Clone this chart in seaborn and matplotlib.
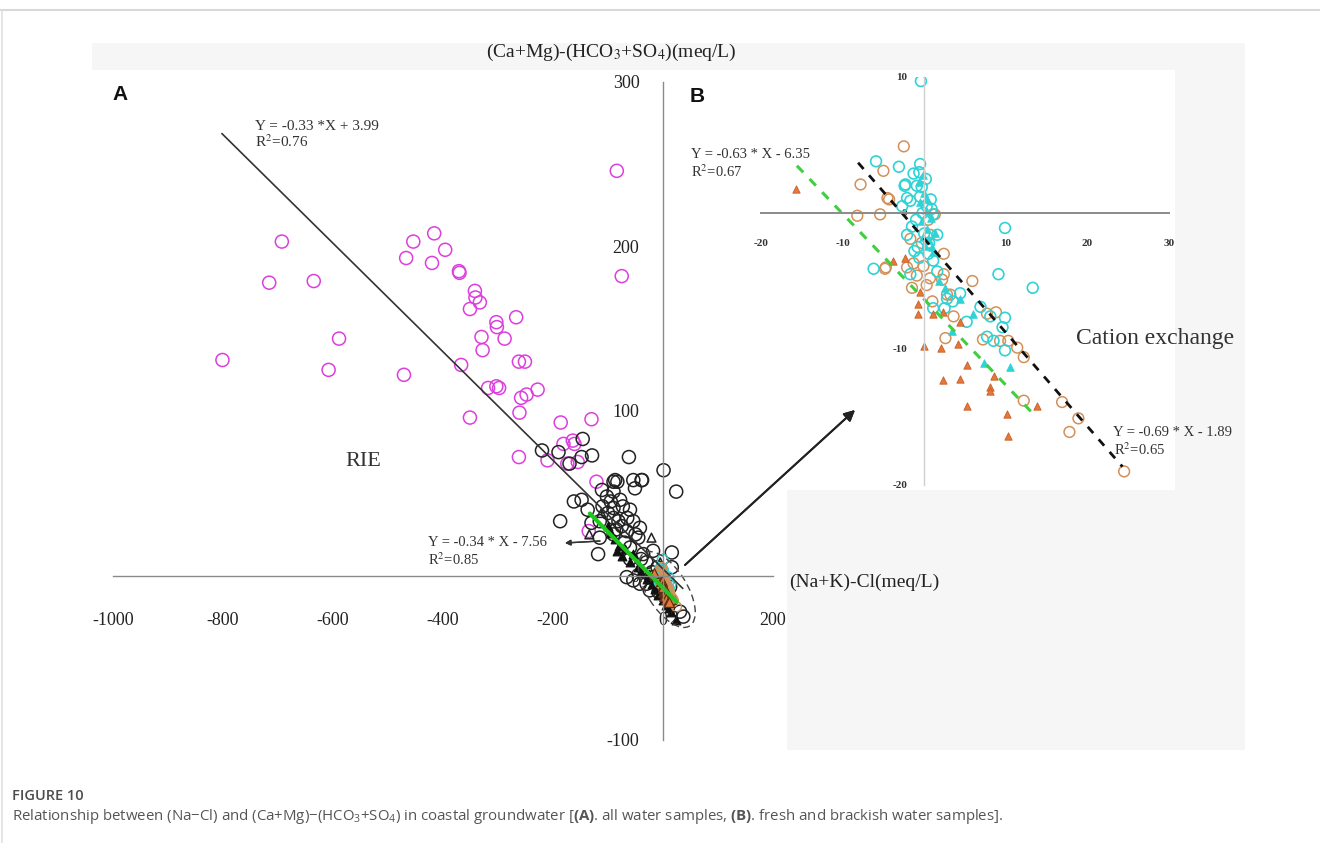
import matplotlib
matplotlib.use('Agg')
import matplotlib.pyplot as plt
import seaborn as sns
from matplotlib.patches import Rectangle, Ellipse
from matplotlib.lines import Line2D
from matplotlib.transforms import ScaledTranslation

sns.set_style('white')
plt.rcParams['font.family'] = ['Liberation Serif', 'DejaVu Serif']
plt.rcParams['mathtext.fontset'] = 'stix'
plt.rcParams['axes.unicode_minus'] = False
plt.rcParams['mathtext.rm'] = 'Open Sans'
plt.rcParams['mathtext.bf'] = 'Open Sans:bold'
plt.rcParams['mathtext.it'] = 'Open Sans:italic'

W, H = 1320, 843

# ---- panel A : all water samples ----
a_mag_x = [-693, -716, -635, -589, -801, -608, -471, -454, -416, -396, -467, -420, -371, -370,
           -342, -341, -333, -351, -267, -303, -302, -330, -288, -328, -367, -262, -251, -318,
           -303, -298, -228, -258, -248, -351, -261, -186, -130, -181, -164, -161, -262, -210,
           -174, -155, -121, -75, -84, -135]
a_mag_y = [203, 178, 179, 144, 131, 125, 122, 203, 208, 198, 193, 190, 185, 184,
           173, 169, 166, 162, 157, 154, 151, 145, 144, 137, 128, 130, 130, 114,
           115, 114, 113, 108, 110, 96, 99, 93, 95, 80, 82, 80, 72, 70,
           68, 69, 57, 182, 246, 27]

a_blk_x = [-220, -190, -146, -148, -129, -170, -62, 1, 24, -90, -83, -54, -38, -51, -111, -102,
           -90, -78, -162, -148, -137, -90, -73, -60, -187, -130, -115, -90, -81, -54, -42, -66,
           -90, -115, -45, -118, -60, -36, -18, 16, 16, -66, -54, -42, -30, -18, -24, 13, 31, 37,
           -87, -39, -70, -75, -85, -95, -65, -50, -40, -30, -10, -5, -20, -8, -60, -100, -110]
a_blk_y = [76, 75, 83, 72, 73, 68, 72, 64, 51, 57, 57, 58, 58, 53, 52, 48,
           51, 46, 45, 46, 40, 41, 42, 40, 33, 32, 33, 35, 33, 33, 29, 27,
           25, 23, 23, 13, 17, 13, 15, 14, 5, -1, -3, -5, -5, -1, -9, -7, -22, -25,
           58, 58, 20, 30, 28, 45, 35, 25, 10, 8, 5, -2, 2, -10, 10, 38, 42]

a_tri_open_x = [-134, -112, -21, -5, 18]
a_tri_open_y = [25, 38, 23, 8, -12]
a_tri_x = [-100, -95, -87, -84, -80, -75, -70, -60, -54, -45, -40, -30, -25, -20, -15, -10,
           0, 5, 10, 15, 24]
a_tri_y = [30, 26, 22, 15, 18, 12, 16, 8, 13, 5, 2, -2, 1, -5, -8, -12,
           -15, -18, -20, -22, -27]

# ---- panel B : fresh and brackish water samples ----
b_cyan_x = [-0.4, -3.1, -5.9, -0.5, -1.3, -0.6, -2.3, -0.3, -1.7, -2.4, -0.9, -2.1, -2.7, -0.5,
            0.2, 1.1, 1.6, 9.9, -2.1, -1.0, 0.3, -0.8, 0.5, -6.2, 9.1, 13.3, 6.9, 8.1, 9.9,
            9.6, 7.7, 8.5, 9.9, 5.2, 4.4, 2.8, 1.1, 2.5, 1.6, -1.7, 1.1, 3.5, -0.2, 0.8,
            -1.5, 0.0, -1.2, 0.6, -0.6, 0.9]
b_cyan_y = [9.7, 3.4, 3.8, 3.6, 2.9, 3.0, 2.1, 1.9, 0.9, 2.0, 2.0, 1.1, 0.5, 1.2,
            2.5, -0.1, -1.6, -1.1, -1.6, -0.5, 0.5, -2.5, -3.0, -4.1, -4.5, -5.5, -6.9, -7.6, -7.7,
            -8.4, -9.1, -9.4, -10.1, -8.0, -5.9, -6.3, -7.0, -7.0, -4.3, -4.5, -3.5, -6.5, 0.0, 1.0,
            -1.0, -1.5, -2.8, -2.2, -3.3, 0.3]
b_cyan_tri_x = [1.8, 2.6, 4.4, 6.0, 3.4, 7.3, 10.5, 1.1, 0.0, -0.5, 0.2, -0.3, 0.4, 0.6, -0.2,
                0.9, -0.6, -0.2, 0.3, 0.8, 0.1, 1.3]
b_cyan_tri_y = [-5.0, -5.5, -6.3, -7.4, -8.7, -11.0, -11.3, -2.9, 1.5, 0.8, 0.2, -0.6, -1.2, -2.0, -1.8,
                -2.5, 2.3, 2.8, 1.0, -0.4, -2.4, -1.5]
b_org_x = [-2.5, -5.0, -4.5, -5.4, -7.8, -4.3, -8.2, 1.3, 0.5, 0.7, 2.4, -0.3, -1.7, -4.7, -1.3,
           0.7, 2.4, 3.2, 2.6, -4.8, -2.1, -0.1, -0.9, 0.3, 2.2, 2.8, 3.6, 5.9, 7.7, 8.8, 7.2,
           9.3, 10.3, 11.4, 12.2, 12.2, 16.9, 18.9, 17.8, 24.5, 1.0, -1.5]
b_org_y = [4.9, 3.1, 1.1, -0.1, 2.1, 1.0, -0.2, -0.1, -0.5, -1.6, -3.0, -2.2, -1.9, -4.0, -3.7,
           -4.8, -4.5, -6.0, -9.2, -4.1, -4.0, -3.9, -4.6, -5.3, -4.9, -6.0, -7.6, -5.0, -7.4, -7.3, -9.3,
           -9.4, -9.4, -9.9, -10.6, -13.8, -13.9, -15.1, -16.1, -19.0, -6.5, -5.5]
b_org_tri_x = [-15.7, -3.8, -2.3, -0.8, 1.1, 2.3, 4.4, 0.0, 2.0, 4.2, 5.2, 2.3, 4.4, 8.6, 8.1,
               8.1, 5.3, 10.1, 13.8, 10.3, -0.5, -0.8]
b_org_tri_y = [1.8, -3.5, -3.3, -7.4, -7.4, -7.3, -8.0, -9.8, -9.9, -9.6, -11.2, -12.3, -12.2, -12.0, -12.8,
               -13.1, -14.2, -14.8, -14.2, -16.4, -5.8, -6.7]

# fitted lines (slope, intercept, x-start, x-end) as printed on the figure
fit_a_all = (-0.33, 3.99, -802, 36)
fit_a_tri = (-0.34, -7.56, -133, 25)
fit_b_circ = (-0.69, -1.89, -8.1, 24.3)
fit_b_tri = (-0.63, -6.35, -15.6, 13.4)

MAG = '#dd3fdd'
CYAN = '#2fd3d6'
TAN = '#d39059'
ORANGE = '#e3783a'


def fx(px):
    return px / W


def fy(py):
    return 1 - py / H


def fit_line(ax, fit, **kw):
    k, b, x0, x1 = fit
    sns.lineplot(x=[x0, x1], y=[k * x0 + b, k * x1 + b], ax=ax, **kw)


fig = plt.figure(figsize=(W / 100, H / 100), dpi=100)

# page frame and light grey image background
fig.add_artist(Line2D([0, 1], [fy(10), fy(10)], color='#d8d8d8', lw=1.5, zorder=-20))
fig.add_artist(Line2D([fx(2), fx(2)], [0, fy(10)], color='#e0e0e0', lw=1.2, zorder=-20))
fig.add_artist(Rectangle((fx(92), fy(750)), fx(1245 - 92), (750 - 43) / H,
                         facecolor='#f6f6f6', edgecolor='none', zorder=-15))
fig.add_artist(Rectangle((fx(92), fy(750)), fx(787 - 92), (750 - 70) / H,
                         facecolor='white', edgecolor='none', zorder=-14))
fig.add_artist(Rectangle((fx(757), fy(490)), fx(1175 - 757), (490 - 70) / H,
                         facecolor='white', edgecolor='none', zorder=-14))

# ---------------- panel A ----------------
axA = fig.add_axes([fx(113), fy(740), fx(660), 658 / H])
axA.set_facecolor('none')
fit_line(axA, fit_a_all, color='#333333', lw=1.2)
sns.scatterplot(x=a_mag_x, y=a_mag_y, ax=axA, marker='o', s=88, facecolor='none',
                edgecolor=MAG, linewidth=1.1)
sns.scatterplot(x=a_blk_x, y=a_blk_y, ax=axA, marker='o', s=88, facecolor='none',
                edgecolor='#222222', linewidth=1.1)
sns.scatterplot(x=a_tri_open_x, y=a_tri_open_y, ax=axA, marker='^', s=40, facecolor='none',
                edgecolor='#222222', linewidth=1.1)
sns.scatterplot(x=a_tri_x, y=a_tri_y, ax=axA, marker='^', s=40, color='#111111',
                edgecolor='#111111', linewidth=0.8)
sns.scatterplot(x=b_cyan_x, y=b_cyan_y, ax=axA, marker='o', s=60, facecolor='none',
                edgecolor=CYAN, linewidth=1.0)
sns.scatterplot(x=b_org_x, y=b_org_y, ax=axA, marker='o', s=50, facecolor='none',
                edgecolor=TAN, linewidth=1.0)
sns.scatterplot(x=b_org_tri_x, y=b_org_tri_y, ax=axA, marker='^', s=50, color=ORANGE,
                edgecolor='#5a2a10', linewidth=0.8)
fit_line(axA, fit_a_tri, color='#1fc81f', lw=3)

# dashed ellipse around the fresh/brackish cluster
tr = fig.dpi_scale_trans + ScaledTranslation(7, -8.5, axA.transData)
axA.add_patch(Ellipse((0, 0), 0.86, 0.40, angle=-58, transform=tr, fill=False,
                      ls=(0, (5, 3)), lw=1.0, edgecolor='#444444', clip_on=False))

axA.set_xlim(-1000, 200)
axA.set_ylim(-100, 300)
for s in ['top', 'right']:
    axA.spines[s].set_visible(False)
axA.spines['left'].set_position(('data', 0))
axA.spines['bottom'].set_position(('data', 0))
for s in ['left', 'bottom']:
    axA.spines[s].set_color('#8a8a8a')
    axA.spines[s].set_linewidth(1.0)
axA.set_xticks([-1000, -800, -600, -400, -200, 0, 200])
axA.set_xticks(list(range(-900, 200, 200)), minor=True)
axA.set_yticks([-100, 0, 100, 200, 300])
axA.set_yticks([-50, 50, 150, 250], minor=True)
axA.tick_params(axis='x', which='major', direction='out', length=16, width=1,
                color='#8a8a8a', pad=10, labelsize=13, labelcolor='#222222')
axA.tick_params(axis='x', which='minor', direction='out', length=6, width=1, color='#8a8a8a')
axA.tick_params(axis='y', which='major', direction='out', length=14, width=1,
                color='#8a8a8a', pad=3, labelsize=13, labelcolor='#222222')
axA.tick_params(axis='y', which='minor', direction='out', length=6, width=1, color='#8a8a8a')
axA.set_xlabel('')
axA.set_ylabel('')

# ---------------- panel B ----------------
axB = fig.add_axes([fx(761), fy(485), fx(408), 408 / H])
axB.set_facecolor('none')
sns.scatterplot(x=b_org_x, y=b_org_y, ax=axB, marker='o', s=60, facecolor='none',
                edgecolor=TAN, linewidth=1.1)
sns.scatterplot(x=b_cyan_x, y=b_cyan_y, ax=axB, marker='o', s=60, facecolor='none',
                edgecolor=CYAN, linewidth=1.2)
sns.scatterplot(x=b_cyan_tri_x, y=b_cyan_tri_y, ax=axB, marker='^', s=30, color=CYAN,
                edgecolor=CYAN, linewidth=0.6)
sns.scatterplot(x=b_org_tri_x, y=b_org_tri_y, ax=axB, marker='^', s=28, color=ORANGE,
                edgecolor='#c8602a', linewidth=0.6)
fit_line(axB, fit_b_circ, color='#111111', lw=2, linestyle=(0, (3, 3)))
fit_line(axB, fit_b_tri, color='#3fcf3f', lw=2.2, linestyle=(0, (3, 3)))
axB.set_xlim(-20, 30)
axB.set_ylim(-20, 10)
for s in ['top', 'right']:
    axB.spines[s].set_visible(False)
axB.spines['left'].set_position(('data', 0))
axB.spines['bottom'].set_position(('data', 0))
axB.spines['bottom'].set_color('#8a8a8a')
axB.spines['bottom'].set_linewidth(1.4)
axB.spines['left'].set_color('#d0d0d0')
axB.spines['left'].set_linewidth(1.0)
axB.set_xticks([-20, -10, 10, 20, 30])
axB.set_xticks([-15, -5, 5, 15, 25], minor=True)
axB.set_yticks([-20, -10, 0, 10])
axB.set_yticks([-15, -5, 5], minor=True)
axB.tick_params(axis='x', which='both', direction='out', length=7, width=1, color='#d0d0d0',
                pad=12, labelsize=8, labelcolor='#333333')
axB.tick_params(axis='y', which='both', direction='out', length=8, width=1, color='#c0c0c0',
                pad=4, labelsize=8, labelcolor='#333333')
for lab in axB.get_xticklabels() + axB.get_yticklabels():
    lab.set_fontweight('bold')
axB.set_xlabel('')
axB.set_ylabel('')

# ---------------- texts ----------------
txt = '#333333'
fig.text(fx(611), fy(52), '(Ca+Mg)-(HCO$_3$+SO$_4$)(meq/L)', ha='center', va='center',
         fontsize=14, color='#222222')
fig.text(fx(789), fy(582), '(Na+K)-Cl(meq/L)', ha='left', va='center', fontsize=14, color='#222222')
fig.text(fx(674), fy(620), '2', ha='center', va='center', fontsize=13, color='#222222')
fig.text(fx(112), fy(95), 'A', ha='left', va='center', fontsize=15, fontweight='bold',
         family='Liberation Sans', color='#111111')
fig.text(fx(690), fy(97), 'B', ha='left', va='center', fontsize=15, fontweight='bold',
         family='Liberation Sans', color='#111111')
fig.text(fx(255), fy(126), 'Y = -0.33 *X + 3.99', ha='left', va='center', fontsize=11, color=txt)
fig.text(fx(255), fy(142), 'R$^2$=0.76', ha='left', va='center', fontsize=11, color=txt)
fig.text(fx(363), fy(462), 'RIE', ha='center', va='center', fontsize=16, color=txt)
fig.text(fx(428), fy(543), 'Y = -0.34 * X - 7.56', ha='left', va='center', fontsize=10.5, color=txt)
fig.text(fx(428), fy(560), 'R$^2$=0.85', ha='left', va='center', fontsize=10.5, color=txt)
fig.text(fx(691), fy(155), 'Y = -0.63 * X - 6.35', ha='left', va='center', fontsize=10.5, color=txt)
fig.text(fx(691), fy(172), 'R$^2$=0.67', ha='left', va='center', fontsize=10.5, color=txt)
fig.text(fx(1113), fy(433), 'Y = -0.69 * X - 1.89', ha='left', va='center', fontsize=10.5, color=txt)
fig.text(fx(1114), fy(450), 'R$^2$=0.65', ha='left', va='center', fontsize=10.5, color=txt)
fig.text(fx(1155), fy(338), 'Cation exchange', ha='center', va='center', fontsize=17, color=txt)

# arrows
fig.add_artist(plt.annotate('', xy=(fx(855), fy(410)), xytext=(fx(685), fy(565)),
                            xycoords='figure fraction', textcoords='figure fraction',
                            arrowprops=dict(arrowstyle='-|>', lw=1.4, color='#222222',
                                            mutation_scale=16, shrinkA=0, shrinkB=0)))
fig.add_artist(plt.annotate('', xy=(fx(565), fy(543)), xytext=(fx(600), fy(541)),
                            xycoords='figure fraction', textcoords='figure fraction',
                            arrowprops=dict(arrowstyle='-|>', lw=1.0, color='#333333',
                                            mutation_scale=8, shrinkA=0, shrinkB=0)))

# caption
fig.text(fx(12), fy(796), 'FIGURE 10', ha='left', va='center', fontsize=10.5, fontweight='semibold',
         family='Open Sans', color='#4d4d4d')
fig.text(fx(12), fy(817),
         'Relationship between (Na\u2212Cl) and (Ca+Mg)\u2212(HCO$_3$+SO$_4$) in coastal groundwater '
         '[$\\mathbf{(A)}$. all water samples, $\\mathbf{(B)}$. fresh and brackish water samples].',
         ha='left', va='center', fontsize=10.85, family='Open Sans', color='#555555',
         math_fontfamily='custom')

fig.savefig('out.png', dpi=100)
